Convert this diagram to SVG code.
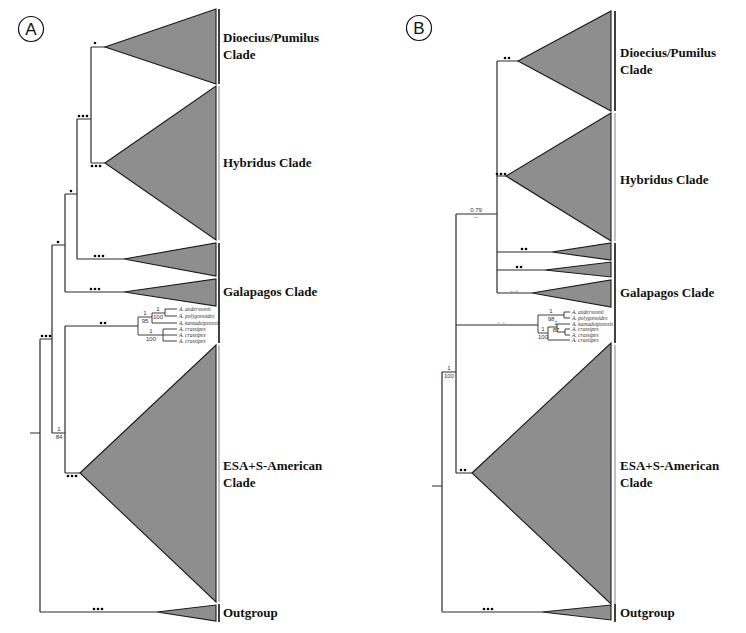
<svg xmlns="http://www.w3.org/2000/svg" width="746" height="633" viewBox="0 0 746 633">
<defs>
<style>
.e{fill:none;stroke:#2a2a2a;stroke-width:1.2}
.tri{fill:#8e8e8e;stroke:#1a1a1a;stroke-width:1.1;stroke-linejoin:miter}
.bar{stroke:#111;stroke-width:1.6}
.barg{stroke:#b0b0b0;stroke-width:1.6}
.lab{font-family:"Liberation Serif","Times New Roman",serif;font-weight:bold;font-size:13px;fill:#111}
.tx{font-family:"Liberation Serif","Times New Roman",serif;font-style:italic;font-size:5.5px;fill:#333}
.sup{font-family:"Liberation Sans",Arial,sans-serif;font-size:6px;fill:#333;text-anchor:middle}
.pan{font-family:"Liberation Sans",Arial,sans-serif;font-size:17px;fill:#111;text-anchor:middle}
.d{fill:#111}
.g{stroke:#aaa;stroke-width:0.8}
</style>
<circle id="dot" r="1.3"/>
</defs>
<rect width="746" height="633" fill="#fff"/>

<!-- Panel labels -->
<g id="panelA"><circle cx="31" cy="29" r="12.5" fill="none" stroke="#111" stroke-width="1.2"/><text class="pan" x="31" y="35">A</text></g>
<g id="panelB"><circle cx="419" cy="28" r="12.5" fill="none" stroke="#111" stroke-width="1.2"/><text class="pan" x="419" y="34">B</text></g>

<!-- Connectors panel A -->
<g id="connectorsA" class="e">
<path d="M30,433H40M40,339V612M40,339H52M40,612H157"/>
<path d="M52,245V433M52,245H65M52,433H65"/>
<path d="M65,194V292M65,194H77M65,292H124"/>
<path d="M77,119V259M77,119H91M77,259H124"/>
<path d="M91,47V163M91,47H105M91,163H105"/>
<path d="M65,326V473M65,326H138M65,473H80"/>
<path d="M138,317V335M138,317H152M152,313V323M152,313H165M165,309V316M165,309H177M165,316H177M152,323H177M138,335H163M163,329V341M163,329H177M163,335H177M163,341H177" stroke-width="0.9"/>
</g>

<!-- Connectors panel B -->
<g id="connectorsB" class="e">
<path d="M432,486H442M442,372V612M442,372H456M442,612H542"/>
<path d="M456,214V473M456,214H497M456,325H538M456,473H472"/>
<path d="M497,61V293M497,61H518M497,176H506M497,252H552M497,270H545M497,293H532"/>
<path d="M538,315V333M538,315H564M564,312V318M564,312H570M564,318H570M538,333H548M548,327V340M548,327H557M557,324V332M557,324H570M557,332H565M565,329V335M565,329H570M565,335H570M548,340H570" stroke-width="0.9"/>
</g>

<!-- Panel A clades -->
<g id="A-dioecius"><polygon class="tri" points="105,47 216,9 216,84"/><line class="bar" x1="219" y1="9" x2="219" y2="84"/><text class="lab" x="223" y="42">Dioecius/Pumilus</text><text class="lab" x="223" y="59">Clade</text></g>
<g id="A-hybridus"><polygon class="tri" points="105,163 216,86 216,240"/><line class="barg" x1="219" y1="86" x2="219" y2="240"/><text class="lab" x="223" y="167">Hybridus Clade</text></g>
<g id="A-galapagos"><polygon class="tri" points="124,259 216,243 216,276"/><polygon class="tri" points="124,292 216,279 216,306"/><line class="bar" x1="219" y1="243" x2="219" y2="343"/><text class="lab" x="223" y="296">Galapagos Clade</text></g>
<g id="A-taxa">
<text class="tx" x="179" y="311">A. anderssonii</text>
<text class="tx" x="179" y="318">A. polygonoides</text>
<text class="tx" x="179" y="325">A. kamaduiposnsis</text>
<text class="tx" x="179" y="331">A. crassipes</text>
<text class="tx" x="179" y="337">A. crassipes</text>
<text class="tx" x="179" y="343">A. crassipes</text>
</g>
<g id="A-esa"><polygon class="tri" points="80,473 216,345 216,602"/><line class="barg" x1="219" y1="345" x2="219" y2="602"/><text class="lab" x="223" y="470">ESA+S-American</text><text class="lab" x="223" y="487">Clade</text></g>
<g id="A-outgroup"><polygon class="tri" points="157,612 216,605 216,621"/><line class="bar" x1="219" y1="604" x2="219" y2="622"/><text class="lab" x="223" y="617">Outgroup</text></g>

<!-- Panel A support -->
<g id="A-support">
<use href="#dot" x="95" y="43" class="d"/>
<use href="#dot" x="79" y="116"/><use href="#dot" x="83" y="116"/><use href="#dot" x="87" y="116"/>
<use href="#dot" x="92" y="166"/><use href="#dot" x="96" y="166"/><use href="#dot" x="100" y="166"/>
<use href="#dot" x="71" y="191"/>
<use href="#dot" x="95" y="256"/><use href="#dot" x="99" y="256"/><use href="#dot" x="103" y="256"/>
<use href="#dot" x="58" y="242"/>
<use href="#dot" x="91" y="289"/><use href="#dot" x="95" y="289"/><use href="#dot" x="99" y="289"/>
<use href="#dot" x="42" y="336"/><use href="#dot" x="46" y="336"/><use href="#dot" x="50" y="336"/>
<use href="#dot" x="101" y="323"/><use href="#dot" x="105" y="323"/>
<use href="#dot" x="68" y="476"/><use href="#dot" x="72" y="476"/><use href="#dot" x="76" y="476"/>
<use href="#dot" x="94" y="609"/><use href="#dot" x="98" y="609"/><use href="#dot" x="102" y="609"/>
<text class="sup" x="59" y="431">1</text><text class="sup" x="59" y="439">84</text>
<text class="sup" x="145" y="315">1</text><text class="sup" x="145" y="323">95</text>
<text class="sup" x="158" y="311">1</text><text class="sup" x="158" y="318.5">100</text>
<text class="sup" x="151" y="333">1</text><text class="sup" x="151" y="341">100</text>
</g>

<!-- Panel B clades -->
<g id="B-dioecius"><polygon class="tri" points="518,61 611,11 611,111"/><line class="bar" x1="615" y1="11" x2="615" y2="111"/><text class="lab" x="620" y="57">Dioecius/Pumilus</text><text class="lab" x="620" y="74">Clade</text></g>
<g id="B-hybridus"><polygon class="tri" points="506,176 611,113 611,241"/><line class="barg" x1="615" y1="113" x2="615" y2="241"/><text class="lab" x="620" y="184">Hybridus Clade</text></g>
<g id="B-galapagos"><polygon class="tri" points="552,252 611,243 611,260"/><polygon class="tri" points="545,270 611,262 611,277"/><polygon class="tri" points="532,293 611,280 611,307"/><line class="bar" x1="615" y1="243" x2="615" y2="343"/><text class="lab" x="620" y="297">Galapagos Clade</text></g>
<g id="B-taxa">
<text class="tx" x="572" y="314">A. anderssonii</text>
<text class="tx" x="572" y="320">A. polygonoides</text>
<text class="tx" x="572" y="326">A. kamaduiposnsis</text>
<text class="tx" x="572" y="331">A. crassipes</text>
<text class="tx" x="572" y="337">A. crassipes</text>
<text class="tx" x="572" y="342">A. crassipes</text>
</g>
<g id="B-esa"><polygon class="tri" points="472,473 611,343 611,604"/><line class="barg" x1="615" y1="345" x2="615" y2="604"/><text class="lab" x="620" y="470">ESA+S-American</text><text class="lab" x="620" y="487">Clade</text></g>
<g id="B-outgroup"><polygon class="tri" points="542,612 611,605 611,620"/><line class="bar" x1="615" y1="604" x2="615" y2="622"/><text class="lab" x="620" y="617">Outgroup</text></g>

<!-- Panel B support -->
<g id="B-support">
<use href="#dot" x="505" y="58"/><use href="#dot" x="509" y="58"/>
<use href="#dot" x="497" y="174"/><use href="#dot" x="501" y="174"/><use href="#dot" x="505" y="174"/>
<use href="#dot" x="522" y="249"/><use href="#dot" x="526" y="249"/>
<use href="#dot" x="517" y="267"/><use href="#dot" x="521" y="267"/>
<use href="#dot" x="461" y="470"/><use href="#dot" x="465" y="470"/>
<use href="#dot" x="484" y="609"/><use href="#dot" x="488" y="609"/><use href="#dot" x="492" y="609"/>
<path class="g" d="M510,291.5h3M515,291.5h3M497,323h3M502,323h3M474,217.5h4"/>
<text class="sup" x="476" y="212">0.79</text>
<text class="sup" x="449" y="370">1</text><text class="sup" x="449" y="378">100</text>
<text class="sup" x="551" y="313">1</text><text class="sup" x="551" y="320.5">98</text>
<text class="sup" x="556" y="325">1</text><text class="sup" x="556" y="331.5">87</text>
<text class="sup" x="543" y="331">1</text><text class="sup" x="543" y="338.5">100</text>
</g>
</svg>
